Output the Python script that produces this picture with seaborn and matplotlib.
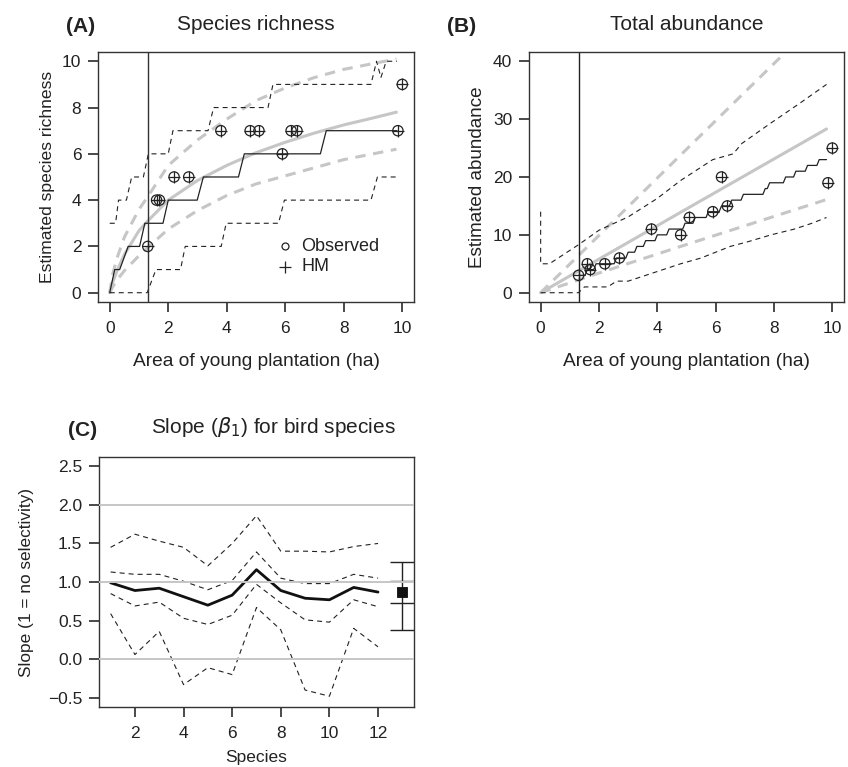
import matplotlib
matplotlib.use('Agg')
import matplotlib.pyplot as plt
import seaborn as sns

# ---------------- data ----------------
# (A) species richness
area_obs = [1.3, 1.6, 1.7, 2.2, 2.7, 3.8, 4.8, 5.1, 5.9, 6.2, 6.4, 9.85, 10.0]
rich_obs = [2, 4, 4, 5, 5, 7, 7, 7, 6, 7, 7, 7, 9]

rich_hm_x = [0, 0.17, 0.34, 0.63, 1.02, 1.2, 1.82, 2.0, 2.99, 3.2, 4.4, 4.6, 7.2, 7.4, 9.82]
rich_hm_y = [0, 1, 1, 2, 2, 3, 3, 4, 4, 5, 5, 6, 6, 7, 7]
rich_hi_x = [0, 0.2, 0.3, 0.57, 0.75, 1.15, 1.32, 2.0, 2.16, 3.36, 3.55, 5.41, 5.58, 8.93, 9.12, 9.27, 9.45, 9.82]
rich_hi_y = [3, 3, 4, 4, 5, 5, 6, 6, 7, 7, 8, 8, 9, 9, 10, 9.3, 10, 10]
rich_lo_x = [0, 1.28, 1.58, 2.42, 2.58, 3.81, 3.98, 5.77, 5.97, 8.93, 9.15, 9.82]
rich_lo_y = [0, 0, 1, 1, 2, 2, 3, 3, 4, 4, 5, 5]

fit_x = [0, 0.1, 0.25, 0.5, 1, 1.3, 2, 3, 4, 5, 6, 7, 8, 9, 9.8]
rich_fit = [0, 0.45, 0.95, 1.65, 2.68, 3.1, 4.0, 4.85, 5.5, 6.05, 6.5, 6.9, 7.25, 7.55, 7.8]
rich_fit_hi = [0, 0.8, 1.5, 2.4, 3.6, 4.15, 5.5, 6.6, 7.5, 8.3, 8.85, 9.3, 9.65, 9.9, 10.1]
rich_fit_lo = [0, 0.25, 0.55, 0.95, 1.6, 1.95, 2.75, 3.55, 4.2, 4.7, 5.05, 5.4, 5.75, 6.0, 6.2]

# (B) total abundance
abun_obs = [3, 5, 4, 5, 6, 11, 10, 13, 14, 20, 15, 19, 25]
abun_hm_start = [1.3, 1.6, 1.9, 2.6, 3.0, 3.3, 3.6, 4.0, 4.4, 4.95, 5.3, 5.75, 6.2,
                 6.55, 6.95, 7.7, 7.85, 8.4, 8.75, 9.15, 9.55, 9.8]
abun_hm_level = [3, 4, 5, 6, 7, 8, 9, 10, 11, 12, 13, 14, 15, 16, 17, 18, 19, 20, 21, 22, 23]
abun_hi_x = [0, 0, 0.3, 1.3, 2, 3, 4, 4.8, 5.9, 6.6, 6.9, 7.8, 8.9, 9.8]
abun_hi_y = [14, 5, 5, 8.3, 10.8, 13.1, 16.3, 19.4, 23, 24, 25.8, 29, 32.8, 36]
abun_lo_x = [0, 1.3, 1.5, 2.3, 2.6, 3.0, 3.6, 4.2, 4.8, 5.5, 6.0, 6.5, 7.1, 7.9, 8.7, 9.3, 9.8]
abun_lo_y = [0, 0, 1, 1, 2, 2, 3, 4, 5, 6, 7, 8, 8.8, 10, 11, 12, 13]
abun_fit_x = [0, 2, 4.8, 9.8]
abun_fit = [0, 5.8, 13.9, 28.3]
abun_fit_hi = [0, 9.9, 23.8, 48.5]
abun_fit_lo = [0, 3.4, 8.0, 16.1]

# (C) slopes per bird species
species = [1, 2, 3, 4, 5, 6, 7, 8, 9, 10, 11, 12]
slope_mean = [0.99, 0.89, 0.92, 0.81, 0.70, 0.83, 1.16, 0.89, 0.79, 0.77, 0.93, 0.87]
slope_q75 = [1.13, 1.10, 1.10, 1.01, 0.90, 1.02, 1.39, 1.05, 0.98, 0.98, 1.10, 1.05]
slope_q25 = [0.85, 0.69, 0.74, 0.53, 0.45, 0.57, 0.97, 0.73, 0.51, 0.48, 0.77, 0.68]
slope_hi = [1.45, 1.62, 1.53, 1.45, 1.21, 1.50, 1.86, 1.40, 1.40, 1.39, 1.46, 1.50]
slope_lo = [0.59, 0.06, 0.36, -0.33, -0.11, -0.20, 0.67, 0.38, -0.40, -0.48, 0.40, 0.16]
comm_x = 13
comm_mean = 0.87
comm_bounds = [0.38, 0.73, 1.01, 1.26]

cut_area = 1.3

# ---------------- style ----------------
sns.set_theme(style='ticks')
plt.rcParams['font.family'] = ['Liberation Sans', 'DejaVu Sans']
plt.rcParams['lines.scale_dashes'] = False
plt.rcParams['axes.edgecolor'] = '#333333'
plt.rcParams['axes.linewidth'] = 1.0
plt.rcParams['xtick.major.size'] = 7
plt.rcParams['ytick.major.size'] = 7
plt.rcParams['xtick.major.pad'] = 7
plt.rcParams['ytick.major.pad'] = 5
plt.rcParams['xtick.color'] = '#333333'
plt.rcParams['ytick.color'] = '#333333'
plt.rcParams['xtick.labelcolor'] = '#222222'
plt.rcParams['ytick.labelcolor'] = '#222222'

GREY = '#c6c6c6'
BLK_DASH = (0, (3.6, 2.9))
GREY_DASH = (0, (7.5, 5.5))

fig = plt.figure(figsize=(8.48, 7.67), dpi=100)
axA = fig.add_axes([0.1156, 0.6063, 0.3726, 0.3259])
axB = fig.add_axes([0.6238, 0.6063, 0.3715, 0.3259])
axC = fig.add_axes([0.1167, 0.0782, 0.3715, 0.3259])


def line(ax, x, y, **kw):
    sns.lineplot(x=x, y=y, ax=ax, sort=False, estimator=None, **kw)


def points(ax, x, y):
    sns.scatterplot(x=x, y=y, ax=ax, marker='o', s=55, facecolor='none',
                    edgecolor='#222222', linewidth=0.9, zorder=5)
    sns.scatterplot(x=x, y=y, ax=ax, marker='+', s=80, color='#222222',
                    linewidth=0.9, zorder=5)


# ---------------- (A) ----------------
ax = axA
line(ax, fit_x, rich_fit_hi, color=GREY, lw=2.2, linestyle=GREY_DASH)
line(ax, fit_x, rich_fit_lo, color=GREY, lw=2.2, linestyle=GREY_DASH)
line(ax, fit_x, rich_fit, color=GREY, lw=2.2)
line(ax, rich_hi_x, rich_hi_y, color='#222222', lw=0.8, linestyle=BLK_DASH)
line(ax, rich_lo_x, rich_lo_y, color='#222222', lw=0.8, linestyle=BLK_DASH)
line(ax, rich_hm_x, rich_hm_y, color='#222222', lw=0.9)
ax.axvline(cut_area, color='#333333', lw=1.0)
points(ax, area_obs, rich_obs)
ax.plot(6.0, 2.0, 'o', ms=5, mfc='none', mec='#222222', mew=0.9)
ax.plot(6.0, 1.12, '+', ms=8, color='#222222', mew=0.9)
ax.text(6.55, 2.0, 'Observed', fontsize=13, va='center', color='#222222')
ax.text(6.55, 1.12, 'HM', fontsize=13, va='center', color='#222222')
ax.set_xlim(-0.4, 10.4)
ax.set_ylim(-0.4, 10.4)
ax.set_xticks([0, 2, 4, 6, 8, 10])
ax.set_yticks([0, 2, 4, 6, 8, 10])
ax.set_xlabel('Area of young plantation (ha)', fontsize=13.8, labelpad=12, color='#222222')
ax.set_ylabel('Estimated species richness', fontsize=12.6, labelpad=5, color='#222222')
ax.set_title('Species richness', fontsize=15, pad=16, color='#222222')

# ---------------- (B) ----------------
ax = axB
hm_x, hm_y = [], []
for i, lev in enumerate(abun_hm_level):
    hm_x += [abun_hm_start[i], abun_hm_start[i + 1] - 0.08]
    hm_y += [lev, lev]
hm_x[-1] = abun_hm_start[-1]
line(ax, abun_fit_x, abun_fit_hi, color=GREY, lw=2.2, linestyle=GREY_DASH)
line(ax, abun_fit_x, abun_fit_lo, color=GREY, lw=2.2, linestyle=GREY_DASH)
line(ax, abun_fit_x, abun_fit, color=GREY, lw=2.2)
line(ax, abun_hi_x, abun_hi_y, color='#222222', lw=0.8, linestyle=BLK_DASH)
line(ax, abun_lo_x, abun_lo_y, color='#222222', lw=0.8, linestyle=BLK_DASH)
line(ax, hm_x, hm_y, color='#222222', lw=0.9)
ax.axvline(cut_area, color='#222222', lw=1.0)
points(ax, area_obs, abun_obs)
ax.set_xlim(-0.4, 10.4)
ax.set_ylim(-1.6, 41.6)
ax.set_xticks([0, 2, 4, 6, 8, 10])
ax.set_yticks([0, 10, 20, 30, 40])
ax.set_xlabel('Area of young plantation (ha)', fontsize=13.8, labelpad=12, color='#222222')
ax.set_ylabel('Estimated abundance', fontsize=13.6, labelpad=5, color='#222222')
ax.set_title('Total abundance', fontsize=15, pad=16, color='#222222')

# ---------------- (C) ----------------
ax = axC
for h in [0, 1, 2]:
    ax.axhline(h, color=GREY, lw=1.4, zorder=4)
line(ax, species, slope_hi, color='#222222', lw=0.8, linestyle=BLK_DASH)
line(ax, species, slope_lo, color='#222222', lw=0.8, linestyle=BLK_DASH)
line(ax, species, slope_q75, color='#222222', lw=0.8, linestyle=BLK_DASH)
line(ax, species, slope_q25, color='#222222', lw=0.8, linestyle=BLK_DASH)
line(ax, species, slope_mean, color='#111111', lw=2.0)
ax.vlines(comm_x, comm_bounds[0], comm_bounds[-1], color='#222222', lw=1.0)
ax.hlines(comm_bounds, comm_x - 0.5, comm_x + 0.5, color='#222222', lw=1.0)
sns.scatterplot(x=[comm_x], y=[comm_mean], ax=ax, marker='s', s=60, color='#111111',
                edgecolor='#111111', zorder=6)
ax.set_xlim(0.52, 13.48)
ax.set_ylim(-0.62, 2.62)
ax.set_xticks([2, 4, 6, 8, 10, 12])
ax.set_yticks([-0.5, 0.0, 0.5, 1.0, 1.5, 2.0, 2.5])
ax.set_yticklabels(['\u22120.5', '0.0', '0.5', '1.0', '1.5', '2.0', '2.5'])
ax.set_xlabel('Species', fontsize=12.5, labelpad=6, color='#222222')
ax.set_ylabel('Slope (1 = no selectivity)', fontsize=12.4, labelpad=10, color='#222222')

for a in (axA, axB, axC):
    a.tick_params(labelsize=12.5)
    for s in a.spines.values():
        s.set_visible(True)

# panel tags and C title
fig.text(66 / 848, 1 - 32 / 767, '(A)', fontsize=15, fontweight='bold', color='#222222')
fig.text(447 / 848, 1 - 32 / 767, '(B)', fontsize=15, fontweight='bold', color='#222222')
fig.text(68 / 848, 1 - 436 / 767, '(C)', fontsize=15, fontweight='bold', color='#222222')
fig.text(273 / 848, 1 - 433 / 767, r'Slope ($\beta_1$) for bird species', fontsize=15,
         ha='center', color='#222222')

fig.savefig('out.png', dpi=100)
